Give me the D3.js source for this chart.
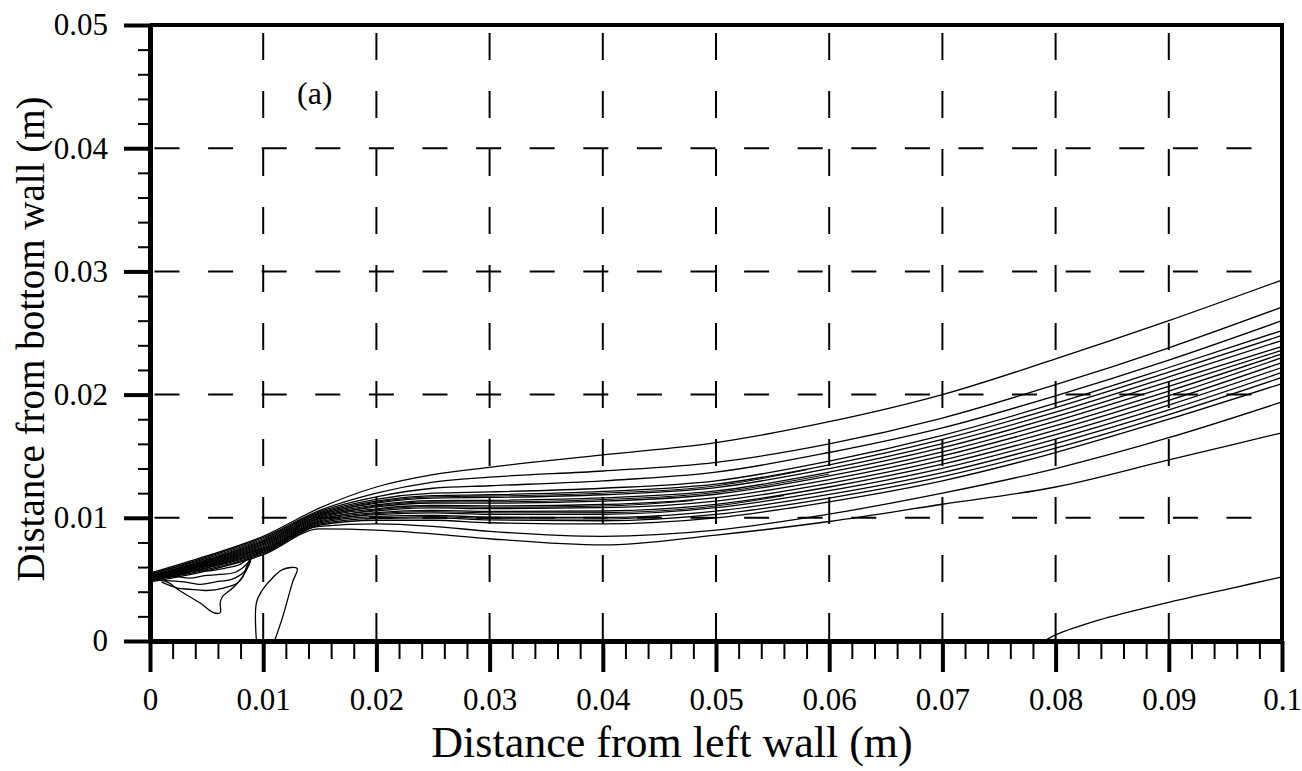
<!DOCTYPE html>
<html>
<head>
<meta charset="utf-8">
<script src="https://cdn.jsdelivr.net/npm/d3@7"></script>
<style>
  body { margin: 0; background: #fff; }
  svg { display: block; }
  text { font-family: "Liberation Serif", "Times New Roman", serif; fill: #000; }
</style>
</head>
<body>
<svg id="chart" width="1302" height="771"></svg>
<script>
// axis ticks (metres)
const xTicks = [0, 0.01, 0.02, 0.03, 0.04, 0.05, 0.06, 0.07, 0.08, 0.09, 0.1];
const xTickLabels = ['0', '0.01', '0.02', '0.03', '0.04', '0.05', '0.06', '0.07', '0.08', '0.09', '0.1'];
const yTicks = [0, 0.01, 0.02, 0.03, 0.04, 0.05];
const yTickLabels = ['0', '0.01', '0.02', '0.03', '0.04', '0.05'];

// contour lines of the plume
// x stations in mm, each line gives its height (mm) at those stations
const xStations = [0, 5, 10, 15, 20, 25, 30, 40, 50, 60, 70, 80, 90, 100];
const c01 = [5.5, 6.9, 8.5, 10.8, 12.5, 13.5, 14.1, 15.1, 16.1, 17.8, 20.0, 22.9, 26.0, 29.3];
const c02 = [5.4, 6.8, 8.4, 10.6, 12.0, 12.9, 13.3, 13.8, 14.5, 16.0, 18.1, 20.8, 23.8, 27.1];
const c03 = [5.4, 6.7, 8.3, 10.5, 11.7, 12.4, 12.6, 13.0, 13.7, 15.3, 17.3, 19.9, 22.8, 26.0];
const c04 = [5.30, 6.60, 8.20, 10.40, 11.50, 12.0, 12.10, 12.40, 13.00, 14.6, 16.70, 19.30, 22.20, 25.2];
const c05 = [5.26, 6.54, 8.11, 10.31, 11.35, 11.8, 11.87, 12.14, 12.73, 14.3, 16.36, 18.94, 21.82, 24.8];
const c06 = [5.23, 6.47, 8.02, 10.22, 11.19, 11.6, 11.65, 11.87, 12.45, 14.0, 16.03, 18.57, 21.44, 24.4];
const c07 = [5.19, 6.41, 7.93, 10.13, 11.04, 11.4, 11.42, 11.61, 12.18, 13.7, 15.69, 18.21, 21.05, 23.9];
const c08 = [5.15, 6.35, 7.84, 10.04, 10.88, 11.2, 11.19, 11.35, 11.91, 13.4, 15.35, 17.85, 20.67, 23.6];
const c09 = [5.12, 6.28, 7.75, 9.95, 10.73, 11.0, 10.96, 11.08, 11.64, 13.1, 15.02, 17.48, 20.29, 23.3];
const c10 = [5.08, 6.22, 7.65, 9.85, 10.57, 10.8, 10.74, 10.82, 11.36, 12.8, 14.68, 17.12, 19.91, 23.0];
const c11 = [5.04, 6.15, 7.56, 9.76, 10.42, 10.6, 10.51, 10.55, 11.09, 12.5, 14.35, 16.75, 19.53, 22.6];
const c12 = [5.01, 6.09, 7.47, 9.67, 10.26, 10.4, 10.28, 10.29, 10.82, 12.2, 14.01, 16.39, 19.15, 22.2];
const c13 = [4.97, 6.03, 7.38, 9.58, 10.11, 10.2, 10.05, 10.03, 10.55, 11.9, 13.67, 16.03, 18.76, 21.8];
const c14 = [4.94, 5.96, 7.29, 9.49, 9.95, 10.0, 9.83, 9.76, 10.27, 11.6, 13.34, 15.66, 18.38, 21.4];
const c15 = [4.90, 5.90, 7.20, 9.40, 9.80, 9.8, 9.60, 9.50, 10.00, 11.3, 13.00, 15.30, 18.00, 20.9];
const c16 = [4.9, 5.8, 7.1, 9.3, 9.5, 9.3, 8.9, 8.5, 9.0, 10.3, 12.0, 14.0, 16.5, 19.4];
const c17 = [4.8, 5.7, 7.0, 9.1, 9.0, 8.7, 8.3, 7.8, 8.6, 9.7, 11.1, 12.5, 14.7, 16.9];

// short contours inside the dense core, [x mm, y mm]
const core1 = [[15, 10.27], [20, 11.27], [25, 11.70], [30, 11.76], [40, 12.00], [50, 12.59], [58, 13.9]];
const core2 = [[16, 10.3], [20, 10.96], [25, 11.30], [30, 11.30], [40, 11.48], [50, 12.05], [60, 13.55]];
const core3 = [[15, 9.90], [20, 10.65], [25, 10.90], [30, 10.85], [40, 10.95], [48, 11.4]];
const core4 = [[17, 10.0], [20, 10.34], [25, 10.50], [30, 10.40], [40, 10.42], [50, 10.96], [56, 11.8]];
const core5 = [[19, 9.9], [25, 10.10], [30, 9.94], [40, 9.90], [45, 10.1]];

// small contours below the jet near the inlet, [x mm, y mm]
const finger1 = [[0.2, 5.0], [1.5, 4.8], [2.6, 4.1], [4.4, 3.1], [5.6, 2.3], [6.2, 2.3], [6.2, 3.1], [6.4, 3.6], [7.3, 4.3], [8.2, 5.2], [8.6, 6.2], [9.0, 6.8]];
const finger2 = [[1.0, 4.8], [2.4, 4.3], [3.5, 4.2], [5.0, 4.1], [6.5, 4.3], [7.7, 4.7], [8.6, 5.9], [9.0, 6.9]];
const finger3 = [[1.2, 4.9], [3.0, 4.8], [4.5, 4.6], [5.8, 4.8], [7.2, 5.0], [8.3, 5.6], [8.9, 6.5]];
const finger4 = [[2.0, 5.3], [3.5, 5.1], [4.8, 5.3], [6.2, 5.4], [7.6, 5.6], [8.6, 6.3], [9.0, 6.9]];
const finger5 = [[3.8, 5.8], [5.2, 5.7], [6.6, 5.9], [7.9, 6.2], [8.8, 6.8]];
// recirculation loop standing on the bottom wall near x = 0.01
const loopWall = [[9.4, 0], [9.4, 3.1], [9.9, 4.1], [10.8, 5.1], [11.7, 5.8], [13.0, 5.9], [12.6, 4.8], [11.7, 1.9], [11.0, 0]];
// line near the bottom right corner
const cornerLine = [[79, 0], [80, 0.5], [83.8, 1.7], [89.8, 3.1], [95.6, 4.3], [100, 5.2]];

const plumeLines = [c01, c02, c03, c04, c05, c06, c07, c08, c09, c10, c11, c12, c13, c14, c15, c16, c17];
const coreLines = [core1, core2, core3, core4, core5];
const sideLines = [finger1, finger2, finger3, finger4, finger5, loopWall, cornerLine];

const svg = d3.select('#chart');

const x = d3.scaleLinear().domain([0, 0.1]).range([150, 1282]);
const y = d3.scaleLinear().domain([0, 0.05]).range([641, 25]);

// dashed grid
svg.append('g')
  .selectAll('line')
  .data(xTicks.slice(1, -1))
  .enter()
  .append('line')
  .attr('x1', d => x(d)).attr('x2', d => x(d))
  .attr('y1', y(0.05)).attr('y2', y(0))
  .attr('stroke', '#000')
  .attr('stroke-width', 2)
  .attr('stroke-dasharray', '27,31')
  .attr('stroke-dashoffset', -8);

svg.append('g')
  .selectAll('line')
  .data(yTicks.slice(1, -1))
  .enter()
  .append('line')
  .attr('x1', x(0)).attr('x2', x(0.1))
  .attr('y1', d => y(d)).attr('y2', d => y(d))
  .attr('stroke', '#000')
  .attr('stroke-width', 2)
  .attr('stroke-dasharray', '25,28.6')
  .attr('stroke-dashoffset', -4.5);

// contours
let plumePath = d3.line()
  .x((d, i) => x(xStations[i] / 1000))
  .y(d => y(d / 1000))
  .curve(d3.curveMonotoneX);

svg.append('g')
  .selectAll('path')
  .data(plumeLines)
  .enter()
  .append('path')
  .attr('d', plumePath)
  .attr('fill', 'none')
  .attr('stroke', '#000')
  .attr('stroke-width', 1.3);

let pointPath = d3.line()
  .x(d => x(d[0] / 1000))
  .y(d => y(d[1] / 1000));

svg.append('g')
  .selectAll('path')
  .data(coreLines)
  .enter()
  .append('path')
  .attr('d', pointPath.curve(d3.curveMonotoneX))
  .attr('fill', 'none')
  .attr('stroke', '#000')
  .attr('stroke-width', 1);

svg.append('g')
  .selectAll('path')
  .data(sideLines)
  .enter()
  .append('path')
  .attr('d', pointPath.curve(d3.curveCatmullRom))
  .attr('fill', 'none')
  .attr('stroke', '#000')
  .attr('stroke-width', 1.3);

// frame top and right
svg.append('line')
  .attr('x1', x(0)).attr('x2', x(0.1) + 2)
  .attr('y1', y(0.05)).attr('y2', y(0.05))
  .attr('stroke', '#000').attr('stroke-width', 4);
svg.append('line')
  .attr('x1', x(0.1)).attr('x2', x(0.1))
  .attr('y1', y(0.05)).attr('y2', y(0))
  .attr('stroke', '#000').attr('stroke-width', 4);

// axes
let minorX = d3.range(0, 0.1001, 0.002);
let minorY = d3.range(0, 0.0501, 0.002);

let styleAxis = (g, major) => {
  g.attr('font-family', null);
  g.select('.domain').attr('stroke-width', 5);
  g.selectAll('.tick line').attr('stroke-width', major ? 4 : 2);
  g.selectAll('.tick text')
    .attr('fill', '#000')
    .style('font-size', '31px');
};

svg.append('g')
  .attr('transform', `translate(0,${y(0)})`)
  .call(d3.axisBottom(x).tickValues(minorX).tickFormat('').tickSize(18).tickSizeOuter(0))
  .call(g => styleAxis(g, false));

svg.append('g')
  .attr('transform', `translate(0,${y(0)})`)
  .call(d3.axisBottom(x).tickValues(xTicks).tickFormat((d, i) => xTickLabels[i]).tickSize(31).tickPadding(16).tickSizeOuter(0))
  .call(g => styleAxis(g, true));

svg.append('g')
  .attr('transform', `translate(${x(0)},0)`)
  .call(d3.axisLeft(y).tickValues(minorY).tickFormat('').tickSize(12).tickSizeOuter(0))
  .call(g => styleAxis(g, false));

svg.append('g')
  .attr('transform', `translate(${x(0)},0)`)
  .call(d3.axisLeft(y).tickValues(yTicks).tickFormat((d, i) => yTickLabels[i]).tickSize(26).tickPadding(16).tickSizeOuter(0))
  .call(g => styleAxis(g, true));

// texts
svg.append('text')
  .attr('x', 297).attr('y', 104)
  .style('font-size', '32px')
  .text('(a)');

svg.append('text')
  .attr('x', 672).attr('y', 757)
  .attr('text-anchor', 'middle')
  .style('font-size', '44px')
  .text('Distance from left wall (m)');

svg.append('text')
  .attr('transform', 'translate(44,339) rotate(-90)')
  .attr('text-anchor', 'middle')
  .style('font-size', '39px')
  .text('Distance from bottom wall (m)');
</script>
</body>
</html>
